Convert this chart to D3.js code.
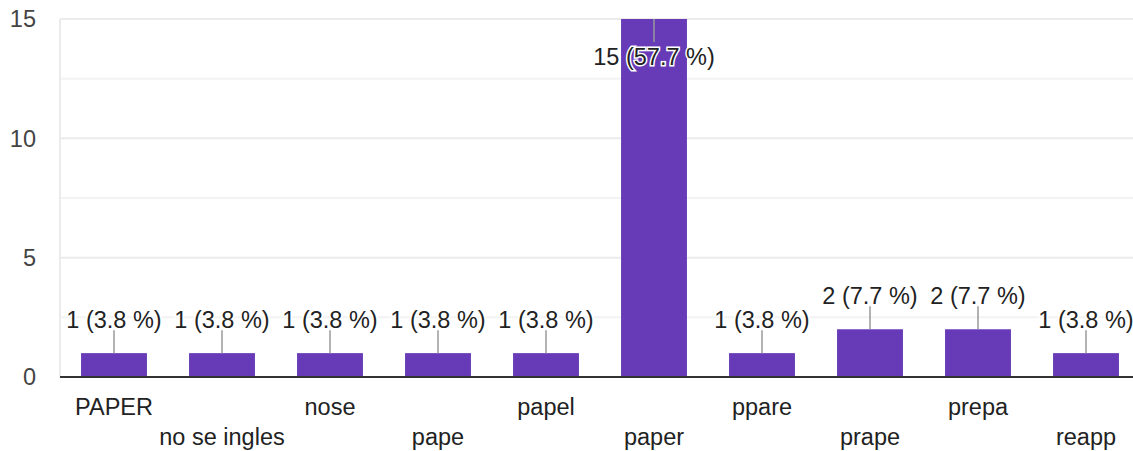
<!DOCTYPE html>
<html>
<head>
<meta charset="utf-8">
<script src="https://cdn.jsdelivr.net/npm/d3@7"></script>
<style>
  body { margin: 0; background: #fff; }
  svg text { font-family: Arial, "Liberation Sans", sans-serif; }
</style>
</head>
<body>
<div id="chart-container"></div>
<script>
// answers and counts
let categories = ["PAPER", "no se ingles", "nose", "pape", "papel", "paper", "ppare", "prape", "prepa", "reapp"],
    counts = [1, 1, 1, 1, 1, 15, 1, 2, 2, 1],
    percents = ["3.8", "3.8", "3.8", "3.8", "3.8", "57.7", "3.8", "7.7", "7.7", "3.8"],
    yTicks = [0, 5, 10, 15],
    gridTicks = [0, 2.5, 5, 7.5, 10, 12.5, 15];

let W = 1133, H = 451,
    fontSize = 23.5,
    margin = { top: 19, right: -7, bottom: 74, left: 60 },
    width = W - margin.left - margin.right,
    height = H - margin.top - margin.bottom;

let svg = d3.select("#chart-container").append("svg").attr("width", W).attr("height", H),
    g = svg.append("g").attr("transform", "translate(" + margin.left + "," + margin.top + ")");

let x = d3.scaleBand().domain(categories).range([0, width]).paddingInner(0.39).paddingOuter(0.195),
    y = d3.scaleLinear().domain([0, 15]).range([height, 0]);

// grid
g.selectAll(".grid")
    .data(gridTicks)
    .enter().append("line")
    .attr("x1", 0).attr("x2", width)
    .attr("y1", d => y(d)).attr("y2", d => y(d))
    .attr("stroke", d => d % 5 === 0 ? "#ebebeb" : "#f3f3f3")
    .attr("stroke-width", 2);

g.append("line")
    .attr("x1", 0).attr("x2", 0)
    .attr("y1", 0).attr("y2", height)
    .attr("stroke", "#ebebeb")
    .attr("stroke-width", 2);

// y labels
g.selectAll(".ylab")
    .data(yTicks)
    .enter().append("text")
    .attr("x", -24)
    .attr("y", d => y(d))
    .attr("dy", "0.35em")
    .attr("text-anchor", "end")
    .attr("fill", "#444")
    .attr("font-size", fontSize)
    .text(d => d);

// bars
g.selectAll(".bar")
    .data(categories)
    .enter().append("rect")
    .attr("x", d => x(d))
    .attr("width", x.bandwidth())
    .attr("y", (d, i) => y(counts[i]))
    .attr("height", (d, i) => height - y(counts[i]))
    .attr("fill", "#673ab7");

// baseline
g.append("line")
    .attr("x1", 0).attr("x2", width)
    .attr("y1", height).attr("y2", height)
    .attr("stroke", "#333")
    .attr("stroke-width", 2);

// value labels with leader lines
let inside = (i) => y(counts[i]) < 60;
g.selectAll(".lead")
    .data(categories)
    .enter().append("line")
    .attr("x1", d => x(d) + x.bandwidth() / 2)
    .attr("x2", d => x(d) + x.bandwidth() / 2)
    .attr("y1", (d, i) => y(counts[i]))
    .attr("y2", (d, i) => inside(i) ? y(counts[i]) + 23 : y(counts[i]) - 23)
    .attr("stroke", "#999")
    .attr("stroke-width", 1.5);

g.selectAll(".val")
    .data(categories)
    .enter().append("text")
    .attr("x", d => x(d) + x.bandwidth() / 2)
    .attr("y", (d, i) => inside(i) ? y(counts[i]) + 38 : y(counts[i]) - 33)
    .attr("dy", "0.35em")
    .attr("text-anchor", "middle")
    .attr("font-size", fontSize)
    .attr("fill", "#222")
    .attr("stroke", "#fff")
    .attr("stroke-width", 3)
    .attr("paint-order", "stroke")
    .text((d, i) => counts[i] + " (" + percents[i] + " %)");

// category labels, staggered
g.selectAll(".xlab")
    .data(categories)
    .enter().append("text")
    .attr("x", d => x(d) + x.bandwidth() / 2)
    .attr("y", (d, i) => height + (i % 2 === 0 ? 30 : 60))
    .attr("dy", "0.35em")
    .attr("text-anchor", "middle")
    .attr("font-size", fontSize)
    .attr("fill", "#222")
    .text(d => d);
</script>
</body>
</html>
